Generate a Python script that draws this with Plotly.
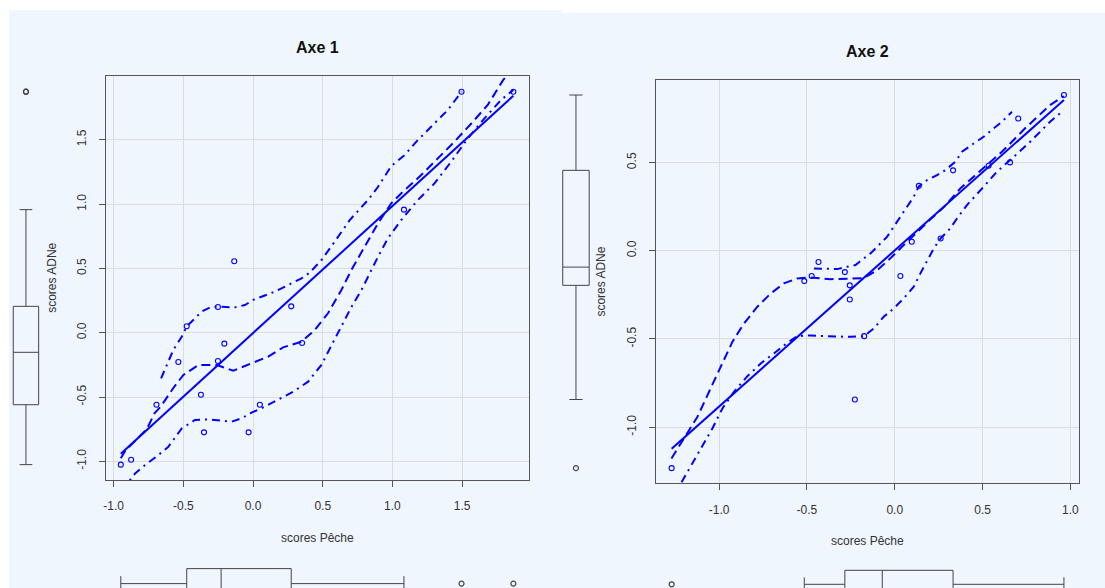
import numpy as np
import plotly.graph_objects as go

# ---------------- data ----------------
# Axe 1 : scores Pêche (x) vs scores ADNe (y)
ax1_x = [-0.949, -0.875, -0.693, -0.536, -0.476, -0.374, -0.352, -0.252, -0.252,
         -0.206, -0.135, -0.032, 0.049, 0.274, 0.352, 1.083, 1.496, 1.868]
ax1_y = [-1.026, -0.988, -0.560, -0.228, 0.050, -0.482, -0.775, 0.200, -0.220,
         -0.085, 0.555, -0.775, -0.560, 0.205, -0.080, 0.957, 1.874, 1.874]

# smoother (dashed) and spread lines (dash-dot)
ax1_smooth_x = [-0.949, -0.918, -0.846, -0.763, -0.706, -0.663, -0.572, -0.500, -0.393, -0.261,
                -0.142, -0.011, 0.109, 0.216, 0.348, 0.443, 0.538, 0.634, 0.706, 0.801,
                0.897, 0.992, 1.064, 1.207, 1.302, 1.446, 1.589, 1.684, 1.792, 1.868]
ax1_smooth_y = [-0.977, -0.920, -0.840, -0.751, -0.625, -0.575, -0.430, -0.329, -0.251, -0.251,
                -0.295, -0.238, -0.186, -0.114, -0.070, 0.021, 0.151, 0.332, 0.488, 0.669,
                0.850, 1.006, 1.084, 1.226, 1.330, 1.486, 1.654, 1.771, 1.960, 2.069]
ax1_upper_x = [-0.660, -0.608, -0.572, -0.512, -0.477, -0.429, -0.369, -0.309, -0.250, -0.130,
               -0.058, 0.001, 0.049, 0.156, 0.252, 0.348, 0.407, 0.491, 0.586, 0.694,
               0.825, 0.897, 0.992, 1.087, 1.183, 1.302, 1.398, 1.496]
ax1_upper_y = [-0.355, -0.225, -0.134, -0.031, 0.047, 0.099, 0.164, 0.197, 0.202, 0.197,
               0.215, 0.255, 0.275, 0.319, 0.371, 0.423, 0.467, 0.565, 0.708, 0.876,
               1.032, 1.135, 1.296, 1.381, 1.498, 1.628, 1.732, 1.874]
ax1_lower_x = [-0.949, -0.882, -0.846, -0.775, -0.679, -0.608, -0.512, -0.417, -0.321, -0.226,
               -0.154, -0.082, -0.011, 0.085, 0.180, 0.288, 0.395, 0.491, 0.562, 0.634,
               0.706, 0.777, 0.825, 0.897, 0.968, 1.064, 1.183, 1.302, 1.422, 1.541,
               1.661, 1.780, 1.868]
ax1_lower_y = [-1.223, -1.145, -1.094, -1.029, -0.951, -0.887, -0.744, -0.679, -0.674, -0.684,
               -0.692, -0.666, -0.622, -0.575, -0.523, -0.459, -0.381, -0.250, -0.100, 0.050,
               0.200, 0.330, 0.436, 0.591, 0.734, 0.877, 1.032, 1.161, 1.330, 1.511,
               1.667, 1.810, 1.888]

# Axe 2
ax2_x = [-1.270, -0.515, -0.473, -0.434, -0.284, -0.256, -0.256, -0.227, -0.174,
         0.032, 0.097, 0.137, 0.261, 0.332, 0.534, 0.656, 0.703, 0.963]
ax2_y = [-1.232, -0.172, -0.143, -0.064, -0.121, -0.196, -0.276, -0.843, -0.484,
         -0.143, 0.051, 0.368, 0.070, 0.456, 0.482, 0.501, 0.750, 0.883]

ax2_smooth_x = [-1.271, -1.199, -1.123, -1.057, -0.991, -0.924, -0.858, -0.782, -0.706, -0.631,
                -0.555, -0.479, -0.366, -0.252, -0.176, -0.100, -0.025, 0.051, 0.127, 0.203,
                0.278, 0.373, 0.449, 0.610, 0.742, 0.884, 0.962]
ax2_smooth_y = [-1.177, -1.064, -0.941, -0.799, -0.658, -0.516, -0.412, -0.317, -0.242, -0.185,
                -0.157, -0.151, -0.161, -0.159, -0.155, -0.110, -0.043, 0.032, 0.108, 0.178,
                0.246, 0.353, 0.420, 0.561, 0.694, 0.826, 0.877]
ax2_upper_x = [-0.460, -0.403, -0.328, -0.271, -0.223, -0.176, -0.138, -0.091, -0.044, -0.006,
               0.032, 0.070, 0.108, 0.136, 0.184, 0.241, 0.288, 0.345, 0.383, 0.449,
               0.506, 0.563, 0.610, 0.667]
ax2_upper_y = [-0.100, -0.100, -0.104, -0.091, -0.081, -0.043, -0.015, 0.032, 0.079, 0.136,
               0.193, 0.249, 0.306, 0.363, 0.401, 0.429, 0.457, 0.505, 0.561, 0.608,
               0.646, 0.694, 0.731, 0.788]
ax2_lower_x = [-1.270, -1.218, -1.161, -1.104, -1.038, -0.981, -0.915, -0.839, -0.763, -0.688,
               -0.612, -0.555, -0.479, -0.403, -0.328, -0.252, -0.174, -0.119, -0.063, -0.006,
               0.051, 0.108, 0.146, 0.184, 0.222, 0.261, 0.316, 0.354, 0.411, 0.506,
               0.581, 0.667, 0.771, 0.884, 0.962]
ax2_lower_y = [-1.410, -1.319, -1.224, -1.121, -1.007, -0.894, -0.799, -0.711, -0.639, -0.582,
               -0.522, -0.484, -0.480, -0.484, -0.488, -0.488, -0.484, -0.440, -0.374, -0.327,
               -0.270, -0.204, -0.128, -0.053, 0.013, 0.070, 0.127, 0.183, 0.259, 0.363,
               0.448, 0.523, 0.618, 0.731, 0.797]

ax1_ticks_x = [-1.0, -0.5, 0.0, 0.5, 1.0, 1.5]
ax1_ticks_y = [-1.0, -0.5, 0.0, 0.5, 1.0, 1.5]
ax2_ticks_x = [-1.0, -0.5, 0.0, 0.5, 1.0]
ax2_ticks_y = [-1.0, -0.5, 0.0, 0.5]

titles = ["Axe 1", "Axe 2"]
xlabel = "scores Pêche"
ylabel = "scores ADNe"

# ---------------- helpers ----------------
W, H = 1105, 588
def px(v):
    return v / W
def py(v):
    return 1 - v / H

BG = "#F0F6FE"
BLUE = "#0000FF"
FONT = "Liberation Sans, Arial, sans-serif"
TXT = "#333333"
BOXC = "#444444"


def tukey(values):
    v = np.sort(np.asarray(values, dtype=float))
    n = len(v)
    n4 = np.floor((n + 3) / 2) / 2
    d = np.array([1, n4, (n + 1) / 2, n + 1 - n4, n]) - 1
    five = 0.5 * (v[np.floor(d).astype(int)] + v[np.ceil(d).astype(int)])
    iqr = five[3] - five[1]
    lo_lim, hi_lim = five[1] - 1.5 * iqr, five[3] + 1.5 * iqr
    inside = v[(v >= lo_lim) & (v <= hi_lim)]
    out = v[(v < lo_lim) | (v > hi_lim)]
    return dict(q1=five[1], med=five[2], q3=five[3], lo=inside.min(), hi=inside.max(), out=out)


fig = go.Figure()

panels = [
    dict(x=ax1_x, y=ax1_y, sm=(ax1_smooth_x, ax1_smooth_y), up=(ax1_upper_x, ax1_upper_y),
         lo=(ax1_lower_x, ax1_lower_y), main=("x", "y"), ybox=("x3", "y3"), xbox=("x4", "y4")),
    dict(x=ax2_x, y=ax2_y, sm=(ax2_smooth_x, ax2_smooth_y), up=(ax2_upper_x, ax2_upper_y),
         lo=(ax2_lower_x, ax2_lower_y), main=("x2", "y2"), ybox=("x5", "y5"), xbox=("x6", "y6")),
]

for p in panels:
    xa, ya = p["main"]
    # points
    fig.add_trace(go.Scatter(x=p["x"], y=p["y"], mode="markers", xaxis=xa, yaxis=ya,
                             marker=dict(symbol="circle-open", size=5, color=BLUE,
                                         line=dict(width=1.1, color=BLUE)),
                             hoverinfo="skip", showlegend=False))
    # least squares line
    b, a = np.polyfit(p["x"], p["y"], 1)
    xs = np.array([min(p["x"]), max(p["x"])])
    fig.add_trace(go.Scatter(x=xs, y=a + b * xs, mode="lines", xaxis=xa, yaxis=ya,
                             line=dict(color=BLUE, width=2), hoverinfo="skip", showlegend=False))
    # smoother and spread
    fig.add_trace(go.Scatter(x=p["sm"][0], y=p["sm"][1], mode="lines", xaxis=xa, yaxis=ya,
                             line=dict(color=BLUE, width=2, dash="9px,5px"),
                             hoverinfo="skip", showlegend=False))
    for key in ("up", "lo"):
        fig.add_trace(go.Scatter(x=p[key][0], y=p[key][1], mode="lines", xaxis=xa, yaxis=ya,
                                 line=dict(color=BLUE, width=2, dash="8px,5px,2px,5px"),
                                 hoverinfo="skip", showlegend=False))
    # marginal boxplot for y (vertical)
    sy = tukey(p["y"])
    bx, by = p["ybox"]
    fig.add_trace(go.Box(x=[0], q1=[sy["q1"]], median=[sy["med"]], q3=[sy["q3"]],
                         lowerfence=[sy["lo"]], upperfence=[sy["hi"]], width=1.06,
                         xaxis=bx, yaxis=by, fillcolor="rgba(0,0,0,0)",
                         line=dict(color=BOXC, width=1), boxpoints=False,
                         hoverinfo="skip", showlegend=False))
    if len(sy["out"]):
        fig.add_trace(go.Scatter(x=[0] * len(sy["out"]), y=sy["out"], mode="markers",
                                 xaxis=bx, yaxis=by,
                                 marker=dict(symbol="circle-open", size=5, color=BOXC,
                                             line=dict(width=1.2, color=BOXC)),
                                 hoverinfo="skip", showlegend=False))
    # marginal boxplot for x (horizontal)
    sx = tukey(p["x"])
    bx, by = p["xbox"]
    fig.add_trace(go.Box(y=[0], q1=[sx["q1"]], median=[sx["med"]], q3=[sx["q3"]],
                         lowerfence=[sx["lo"]], upperfence=[sx["hi"]], width=2.0,
                         orientation="h", xaxis=bx, yaxis=by, fillcolor="rgba(0,0,0,0)",
                         line=dict(color=BOXC, width=1), boxpoints=False,
                         hoverinfo="skip", showlegend=False))
    if len(sx["out"]):
        fig.add_trace(go.Scatter(x=sx["out"], y=[0] * len(sx["out"]), mode="markers",
                                 xaxis=bx, yaxis=by,
                                 marker=dict(symbol="circle-open", size=5, color=BOXC,
                                             line=dict(width=1.2, color=BOXC)),
                                 hoverinfo="skip", showlegend=False))

main_axis = dict(showgrid=True, gridcolor="#DCDCDC", gridwidth=1, zeroline=False,
                 showline=True, linecolor="#555555", linewidth=1, mirror=True,
                 ticks="outside", ticklen=6, tickcolor="#555555", tickwidth=1,
                 tickfont=dict(family=FONT, size=12, color=TXT), tickmode="array",
                 fixedrange=True)
hidden = dict(visible=False, fixedrange=True, showgrid=False, zeroline=False)

r1x = [-1.0566, 1.9785]
r1y = [-1.1454, 1.9984]
r2x = [-1.360, 1.049]
r2y = [-1.318, 0.968]

fmt = lambda t: [f"{v:.1f}" for v in t]

fig.update_layout(
    width=W, height=H, margin=dict(l=0, r=0, t=0, b=0),
    paper_bgcolor="white", plot_bgcolor="rgba(0,0,0,0)",
    font=dict(family=FONT, size=12, color=TXT),
    showlegend=False,
    xaxis=dict(main_axis, domain=[px(104), px(527.7)], range=r1x, anchor="y",
               tickvals=ax1_ticks_x, ticktext=fmt(ax1_ticks_x), ticklabelstandoff=9),
    yaxis=dict(main_axis, domain=[py(480), py(75.7)], range=r1y, anchor="x",
               tickvals=ax1_ticks_y, ticktext=fmt(ax1_ticks_y), tickangle=-90,
               ticklabelstandoff=8),
    xaxis2=dict(main_axis, domain=[px(655), px(1079)], range=r2x, anchor="y2",
                tickvals=ax2_ticks_x, ticktext=fmt(ax2_ticks_x), ticklabelstandoff=9),
    yaxis2=dict(main_axis, domain=[py(483.3), py(80)], range=r2y, anchor="x2",
                tickvals=ax2_ticks_y, ticktext=fmt(ax2_ticks_y), tickangle=-90,
                ticklabelstandoff=8),
    xaxis3=dict(hidden, domain=[px(0), px(48)], range=[-1, 1], anchor="y3"),
    yaxis3=dict(hidden, domain=[py(480), py(75.7)], range=r1y, anchor="x3"),
    xaxis4=dict(hidden, domain=[px(104), px(527.7)], range=r1x, anchor="y4"),
    yaxis4=dict(hidden, domain=[0, py(555)], range=[-0.293, 1.907], anchor="x4"),
    xaxis5=dict(hidden, domain=[px(550), px(600)], range=[-1, 1], anchor="y5"),
    yaxis5=dict(hidden, domain=[py(483.3), py(80)], range=r2y, anchor="x5"),
    xaxis6=dict(hidden, domain=[px(655), px(1079)], range=r2x, anchor="y6"),
    yaxis6=dict(hidden, domain=[0, py(555)], range=[-0.264, 2.093], anchor="x6"),
    shapes=[
        dict(type="rect", xref="paper", yref="paper", x0=px(7), x1=px(561), y0=0, y1=py(10),
             fillcolor=BG, line=dict(width=0), layer="below"),
        dict(type="rect", xref="paper", yref="paper", x0=px(561), x1=1, y0=0, y1=py(13),
             fillcolor=BG, line=dict(width=0), layer="below"),
    ],
)

ann = []
for title, cx, ty in [(titles[0], 315.9, 47), (titles[1], 867, 51)]:
    ann.append(dict(text=f"<b>{title}</b>", x=px(cx), y=py(ty), xref="paper", yref="paper",
                    showarrow=False, xanchor="center", yanchor="middle",
                    font=dict(family=FONT, size=16, color="#111111")))
for cx, ly in [(315.9, 538), (867, 541)]:
    ann.append(dict(text=xlabel, x=px(cx), y=py(ly), xref="paper", yref="paper",
                    showarrow=False, xanchor="center", yanchor="middle",
                    font=dict(family=FONT, size=12, color=TXT)))
for lx, cy in [(50, 277.9), (600, 281.7)]:
    ann.append(dict(text=ylabel, x=px(lx), y=py(cy), xref="paper", yref="paper",
                    showarrow=False, xanchor="center", yanchor="middle", textangle=-90,
                    font=dict(family=FONT, size=12, color=TXT)))
fig.update_layout(annotations=ann)

fig.write_html("out.html")
